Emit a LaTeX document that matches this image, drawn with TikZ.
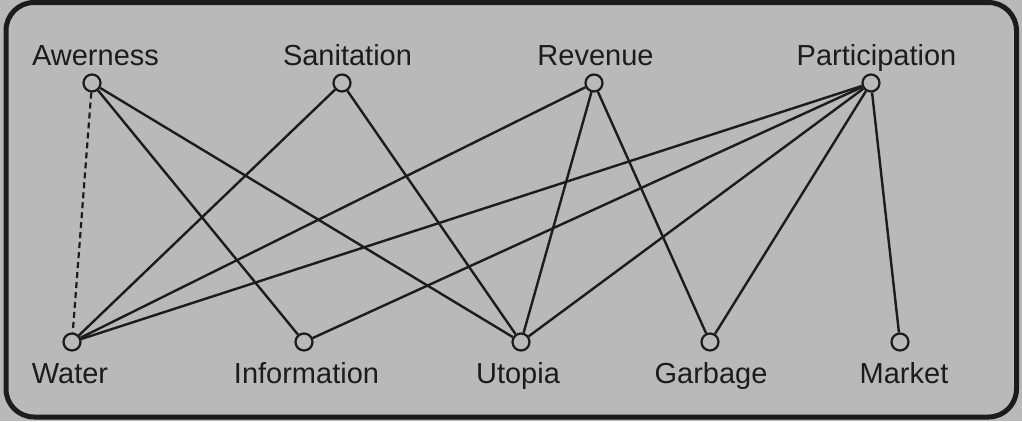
\documentclass[tikz,border=0pt]{standalone}
\usepackage{fontspec}
\setmainfont{Liberation Sans}
\definecolor{bggray}{HTML}{B9B9B9}
\definecolor{ink}{HTML}{1C1C1C}
\begin{document}
\begin{tikzpicture}[x=1pt,y=-1pt,
  dot/.style={circle,draw=ink,line width=2.2pt,fill=bggray,minimum size=17pt,inner sep=0pt},
  lbl/.style={anchor=base,inner sep=0pt,text=ink,font=\fontsize{29}{34}\selectfont},
  link/.style={draw=ink,line width=2.4pt},
  dashlink/.style={draw=ink,line width=2.2pt,dash pattern=on 6pt off 4pt}]
\useasboundingbox (0,0) rectangle (1022,421);
\fill[bggray] (0,0) rectangle (1022,421);
\draw[ink,line width=5pt,rounded corners=28pt] (6,2.5) rectangle (1016.5,417);
% top nodes
\node[dot] (aw) at (92,83) {};
\node[dot] (sa) at (342,83) {};
\node[dot] (re) at (594,83) {};
\node[dot] (pa) at (871,83) {};
\node[lbl] (awl) at (95.5,65) {Awerness};
\node[lbl] (sal) at (347.5,65) {Sanitation};
\node[lbl] (rel) at (595.5,65) {Revenue};
\node[lbl] (pal) at (876.5,65) {Participation};
% bottom nodes
\node[dot] (wa) at (72,342) {};
\node[dot] (in) at (304,342) {};
\node[dot] (ut) at (521,342) {};
\node[dot] (ga) at (710,342) {};
\node[dot] (ma) at (900,342) {};
\node[lbl] (wal) at (70,383) {Water};
\node[lbl] (inl) at (306.5,383) {Information};
\node[lbl] (utl) at (518,383) {Utopia};
\node[lbl] (gal) at (711,383) {Garbage};
\node[lbl] (mal) at (904,383) {Market};
% connectors
\draw[dashlink] (aw) -- (wa);
\draw[link] (aw) -- (in);
\draw[link] (aw) -- (ut);
\draw[link] (sa) -- (wa);
\draw[link] (sa) -- (ut);
\draw[link] (re) -- (wa);
\draw[link] (re) -- (ut);
\draw[link] (re) -- (ga);
\draw[link] (pa) -- (wa);
\draw[link] (pa) -- (in);
\draw[link] (pa) -- (ut);
\draw[link] (pa) -- (ga);
\draw[link] (pa) -- (ma);
\end{tikzpicture}
\end{document}
